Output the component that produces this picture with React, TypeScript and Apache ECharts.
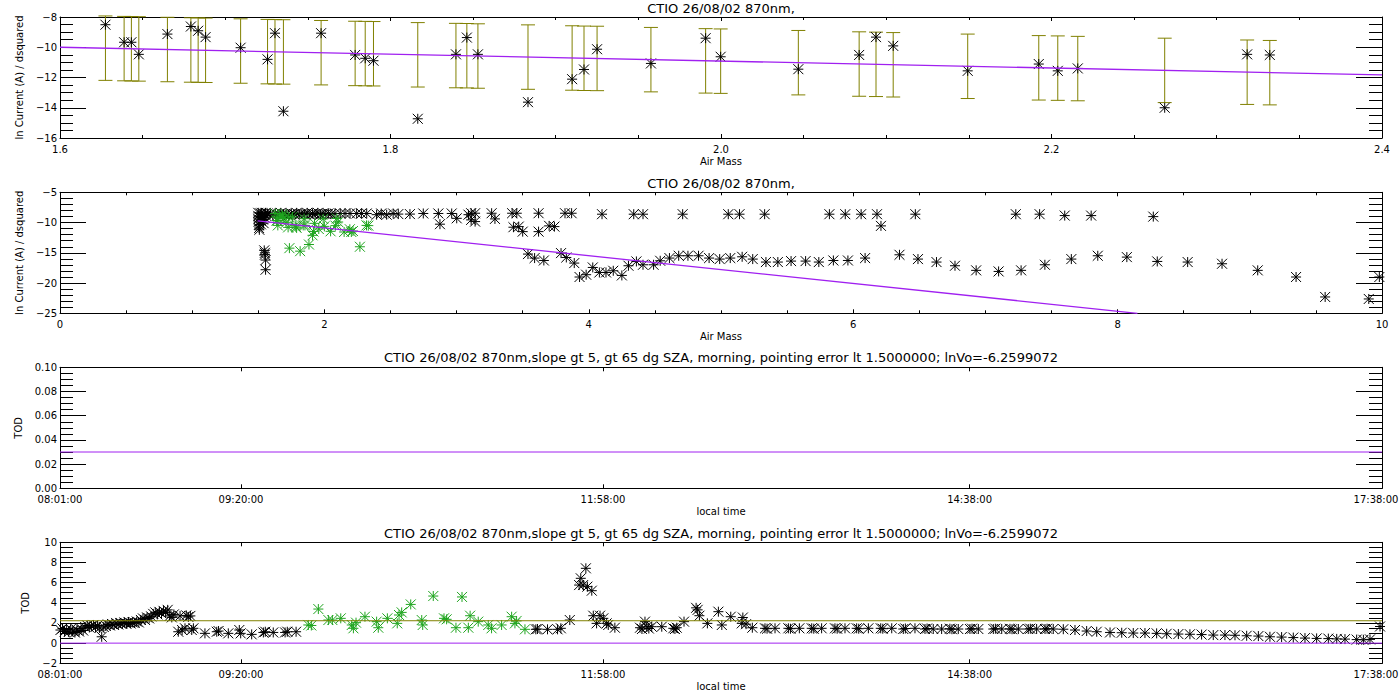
import React, { useEffect, useRef } from "react";
import * as echarts from "echarts";

const FONT = "DejaVu Sans";
const PURPLE = "#A020F0";
const OLIVE = "#808000";
const GREEN = "#1FA51F";
const BLACK = "#000000";

const titleShort = "CTIO 26/08/02 870nm,";
const titleLong =
  "CTIO 26/08/02 870nm,slope gt 5, gt 65 dg SZA, morning, pointing error lt 1.5000000; lnVo=-6.2599072";
const airMassName = "Air Mass";
const lnCurrentName = "ln Current (A) / dsquared";
const timeName = "local time";
const todName = "TOD";

// ---- selected observations (panel 1, green in panel 2): [air mass, ln current]
const selectedPoints: [number, number][] = [
  [1.6275, -8.51], [1.6388, -9.67], [1.6432, -9.67], [1.6477, -10.47], [1.665, -9.13],
  [1.6792, -8.63], [1.6836, -8.91], [1.6881, -9.33], [1.7093, -10.03], [1.7256, -10.8],
  [1.7301, -9.07], [1.7352, -14.23], [1.758, -9.07], [1.7786, -10.51], [1.7847, -10.73],
  [1.7897, -10.89], [1.8165, -14.73], [1.8396, -10.47], [1.8462, -9.36], [1.8529, -10.47],
  [1.8832, -13.63], [1.9099, -12.11], [1.9171, -11.47], [1.925, -10.13], [1.9576, -11.07],
  [1.9907, -9.4], [1.9998, -10.63], [2.0468, -11.45], [2.0836, -10.51], [2.0938, -9.33],
  [2.1042, -9.91], [2.1493, -11.56], [2.1923, -11.11], [2.2038, -11.56], [2.2159, -11.4],
  [2.2685, -14.0], [2.3184, -10.47], [2.3321, -10.51],
];
const errLow = [
  -12.19, -12.22, -12.23, -12.24, -12.28, -12.31, -12.32, -12.33, -12.38, -12.42,
  -12.43, -12.44, -12.49, -12.54, -12.55, -12.56, -12.63, -12.68, -12.69, -12.71,
  -12.78, -12.84, -12.86, -12.87, -12.95, -13.03, -13.05, -13.15, -13.24, -13.26,
  -13.29, -13.39, -13.49, -13.51, -13.54, -13.66, -13.78, -13.81,
];
const errHigh = [
  -7.93, -7.96, -7.97, -7.98, -8.02, -8.05, -8.06, -8.07, -8.12, -8.16,
  -8.17, -8.18, -8.23, -8.28, -8.29, -8.3, -8.37, -8.42, -8.43, -8.45,
  -8.52, -8.58, -8.6, -8.61, -8.69, -8.77, -8.79, -8.89, -8.98, -9.0,
  -9.03, -9.13, -9.23, -9.25, -9.28, -9.4, -9.52, -9.55,
];
const fit1: [number, number][] = [[1.6, -10.0], [2.4, -11.83]];

// ---- all observations (panel 2, black): [air mass, ln current]
const allPoints: [number, number][] = [
  [1.5, -8.4], [1.5, -8.9], [1.5, -9.4], [1.502, -9.9], [1.504, -10.4], [1.506, -10.9], [1.508, -11.2],
  [1.515, -8.5], [1.515, -9.1], [1.518, -9.7], [1.52, -10.3], [1.525, -8.4], [1.53, -8.9], [1.535, -9.5],
  [1.54, -10.1], [1.545, -8.6], [1.55, -9.2], [1.555, -8.4], [1.56, -8.9], [1.57, -8.5],
  [1.545, -14.6], [1.55, -15.0], [1.55, -15.3], [1.555, -16.2], [1.555, -17.8],
  [1.59, -8.5], [1.61, -8.8], [1.63, -8.5], [1.65, -8.7], [1.67, -8.4], [1.69, -8.6], [1.71, -8.5],
  [1.73, -8.8], [1.75, -8.5], [1.77, -8.6], [1.79, -8.4], [1.81, -8.7], [1.83, -8.5], [1.85, -8.6],
  [1.87, -8.4], [1.89, -8.7], [1.91, -8.5], [1.93, -8.6], [1.95, -8.4], [1.97, -8.7], [1.99, -8.5],
  [2.01, -8.6], [2.03, -8.5], [2.05, -8.6],
  [2.08, -8.5], [2.12, -8.5], [2.156, -8.5], [2.194, -8.5], [2.244, -8.5], [2.28, -8.5], [2.32, -8.5],
  [2.395, -8.7], [2.43, -8.5], [2.471, -8.7], [2.52, -8.5], [2.559, -8.6], [2.647, -8.6], [2.748, -8.5],
  [2.862, -8.5], [2.874, -10.27], [2.963, -8.5], [3.001, -9.3], [3.09, -8.7],
  [3.11, -8.46], [3.14, -8.46], [3.11, -9.56], [3.14, -9.84], [3.265, -8.46], [3.29, -9.4],
  [3.42, -8.46], [3.455, -8.46], [3.43, -10.77], [3.47, -10.67], [3.5, -11.5], [3.62, -8.46],
  [3.62, -11.5], [3.7, -10.55], [3.74, -10.67], [3.82, -8.46], [3.87, -8.46], [4.1, -8.62],
  [4.34, -8.62], [4.41, -8.62], [4.71, -8.62], [5.055, -8.62], [5.14, -8.62], [5.33, -8.62],
  [5.82, -8.62], [5.94, -8.62], [6.06, -8.62], [6.18, -8.62], [6.21, -10.55], [6.47, -8.62],
  [7.23, -8.62], [7.41, -8.62], [7.6, -8.85], [7.8, -8.85], [8.27, -9.02],
  [3.54, -15.21], [3.59, -15.87], [3.66, -16.27], [3.79, -15.05], [3.83, -15.77], [3.89, -16.7],
  [3.93, -19.0], [3.98, -18.62], [4.03, -17.42], [4.08, -18.25], [4.13, -18.25], [4.185, -17.97],
  [4.25, -18.74], [4.3, -17.14], [4.36, -16.43], [4.41, -16.98], [4.49, -16.98], [4.54, -16.32],
  [4.61, -15.87], [4.68, -15.49], [4.75, -15.49], [4.83, -15.49], [4.91, -15.87], [4.99, -16.04],
  [5.07, -15.87], [5.16, -15.66], [5.24, -16.04], [5.34, -16.53], [5.43, -16.53], [5.53, -16.37],
  [5.64, -16.37], [5.74, -16.53], [5.85, -16.27], [5.96, -16.27], [6.09, -15.87], [6.35, -15.33],
  [6.49, -16.04], [6.63, -16.53], [6.77, -17.14], [6.93, -17.9], [7.1, -18.08], [7.27, -17.9],
  [7.45, -16.98], [7.65, -16.04], [7.85, -15.49], [8.07, -15.71], [8.3, -16.43], [8.53, -16.53],
  [8.79, -16.81], [9.06, -17.9], [9.35, -19.0], [9.57, -22.3], [9.9, -22.63], [9.98, -19.0],
];
const fit2: [number, number][] = [[1.495, -9.73], [8.15, -25.0]];

// ---- time panels: local time in decimal hours
const timeTickLabels = ["08:01:00", "09:20:00", "11:58:00", "14:38:00", "17:38:00"];
const todFitLevel = 0.03;
const todMeanLevel = 2.22;
const todZeroLevel = 0;

// all TOD values (panel 4, black): [hour, TOD]
const todAll: [number, number][] = [
  [8.02, 1.3], [8.035, 1.45], [8.05, 1.15], [8.065, 1.35], [8.08, 1.1], [8.095, 1.4], [8.11, 1.2],
  [8.125, 1.05], [8.14, 1.3], [8.155, 1.15], [8.17, 1.45], [8.185, 1.25], [8.2, 1.6], [8.215, 1.75],
  [8.23, 1.55], [8.245, 1.7], [8.26, 1.8], [8.275, 1.6], [8.29, 1.75], [8.305, 1.5], [8.32, 0.63],
  [8.335, 1.6], [8.35, 1.7], [8.365, 1.85], [8.38, 1.75], [8.395, 1.9], [8.41, 1.8], [8.425, 2.0],
  [8.44, 1.85], [8.455, 2.0], [8.47, 1.9], [8.485, 2.05], [8.5, 1.95], [8.515, 2.1], [8.53, 1.95],
  [8.545, 2.05], [8.56, 2.0], [8.575, 2.15], [8.59, 2.05], [8.605, 2.3], [8.62, 2.45], [8.635, 2.3],
  [8.65, 2.55], [8.665, 2.45], [8.68, 2.65], [8.695, 2.9], [8.71, 3.05], [8.725, 2.85], [8.74, 3.1],
  [8.755, 2.95], [8.77, 3.2], [8.785, 3.05], [8.8, 3.3], [8.815, 2.7], [8.83, 2.55], [8.845, 2.85],
  [8.877, 1.13], [8.89, 2.7], [8.905, 1.3], [8.926, 1.47], [8.935, 2.75], [8.95, 2.6], [8.965, 2.7],
  [8.975, 1.3], [8.987, 1.47], [9.071, 0.97], [9.157, 1.13], [9.17, 1.2], [9.241, 0.97], [9.321, 1.3],
  [9.331, 0.97], [9.411, 0.87], [9.496, 1.06], [9.51, 1.13], [9.568, 1.06], [9.654, 1.06], [9.67, 1.13],
  [9.734, 1.13],
  [11.478, 1.37], [11.49, 1.4], [11.563, 1.37], [11.636, 1.37], [11.66, 1.47], [11.725, 2.29],
  [11.793, 5.76], [11.805, 6.43], [11.822, 5.76], [11.842, 7.42], [11.853, 5.6], [11.885, 5.2],
  [11.896, 2.72], [11.92, 1.96], [11.945, 2.72], [11.969, 2.46], [11.993, 1.96], [12.005, 1.8],
  [12.053, 1.53], [12.236, 1.53], [12.25, 1.4], [12.272, 2.13], [12.285, 1.63], [12.3, 1.45],
  [12.321, 1.63], [12.394, 1.63], [12.478, 1.47], [12.49, 1.4], [12.503, 1.53], [12.556, 2.13],
  [12.644, 3.5], [12.655, 3.3], [12.668, 2.72], [12.726, 1.96], [12.806, 3.12], [12.831, 1.8],
  [12.896, 2.62], [12.976, 1.96], [12.984, 2.54], [13.007, 1.88], [13.053, 1.53],
  [13.145, 1.47], [13.16, 1.43], [13.218, 1.47], [13.315, 1.47], [13.33, 1.43], [13.395, 1.47],
  [13.485, 1.47], [13.5, 1.43], [13.557, 1.47], [13.654, 1.47], [13.67, 1.43], [13.727, 1.47],
  [13.812, 1.47], [13.827, 1.43], [13.897, 1.47], [13.987, 1.47], [14.002, 1.43], [14.067, 1.47],
  [14.151, 1.4], [14.166, 1.45], [14.236, 1.47], [14.309, 1.4], [14.324, 1.45], [14.369, 1.4],
  [14.43, 1.4], [14.49, 1.43], [14.505, 1.38], [14.551, 1.4], [14.636, 1.4], [14.651, 1.43],
  [14.697, 1.4], [14.806, 1.4], [14.821, 1.43], [14.867, 1.4], [14.927, 1.42], [14.942, 1.38],
  [14.988, 1.4], [15.06, 1.4], [15.075, 1.43], [15.121, 1.4], [15.182, 1.4], [15.197, 1.43],
  [15.242, 1.4], [15.315, 1.38], [15.4, 1.3], [15.485, 1.2], [15.558, 1.13], [15.655, 1.06],
  [15.74, 1.03], [15.824, 1.0], [15.909, 1.0], [15.994, 0.97], [16.067, 0.93], [16.152, 0.9],
  [16.236, 0.88], [16.321, 0.85], [16.406, 0.8], [16.491, 0.8], [16.564, 0.78], [16.649, 0.73],
  [16.734, 0.7], [16.818, 0.63], [16.903, 0.6], [16.988, 0.55], [17.073, 0.5], [17.158, 0.47],
  [17.243, 0.45], [17.304, 0.42], [17.364, 0.4], [17.449, 0.35], [17.498, 0.33], [17.546, 0.37],
  [17.619, 1.65],
];

// selected TOD values (panel 4, green): [hour, TOD]
const todSelected: [number, number][] = [
  [9.823, 1.8], [9.845, 1.75], [9.896, 3.38], [9.969, 2.29], [9.998, 2.29], [10.059, 2.46],
  [10.139, 1.8], [10.151, 1.47], [10.17, 2.03], [10.235, 2.62], [10.32, 2.13], [10.332, 1.53],
  [10.398, 2.46], [10.47, 1.96], [10.483, 2.79], [10.502, 3.05], [10.568, 3.84], [10.648, 2.29],
  [10.655, 1.8], [10.732, 4.67], [10.81, 2.46], [10.829, 2.36], [10.897, 1.53], [10.941, 4.58],
  [10.987, 1.53], [11.0, 2.72], [11.059, 2.13], [11.132, 1.8], [11.156, 1.47], [11.229, 1.8],
  [11.302, 2.62], [11.326, 1.96], [11.338, 2.2], [11.399, 1.37],
];

// ---------------------------------------------------------------------------
const toHours = (s: string) => {
  const [h, m, sec] = s.split(":").map(Number);
  return h + m / 60 + sec / 3600;
};
const timeTicks = timeTickLabels.map(toHours);
const tMin = timeTicks[0];
const tMax = timeTicks[timeTicks.length - 1];
const minus = (s: string) => s.replace("-", "\u2212");

const STAR = "path://M-5,-5L5,5M-5,5L5,-5M0,-5L0,5M-5,0L5,0";

const GRID_TOPS = [17, 192.3, 367.3, 542.3];

type AxCfg = {
  min: number;
  max: number;
  interval?: number;
  minor?: number;
  ticks?: number[];
  fmt: (v: number) => string;
  name: string;
  rich?: any;
};

const textStyle = { color: BLACK, fontFamily: FONT, fontSize: 10 };

function xPair(grid: number, c: AxCfg) {
  const common: any = {
    type: "value",
    gridIndex: grid,
    min: c.min,
    max: c.max,
    interval: c.interval,
    splitLine: { show: false },
    minorSplitLine: { show: false },
    axisLine: { show: true, onZero: false, lineStyle: { color: BLACK, width: 1 } },
    axisTick: { show: true, inside: true, length: 4, lineStyle: { color: BLACK, width: 1 }, customValues: c.ticks },
    minorTick: { show: !!c.minor, splitNumber: c.minor || 5, length: 3, lineStyle: { color: BLACK, width: 1 } },
  };
  return [
    {
      ...common,
      position: "bottom",
      axisLabel: {
        show: true, ...textStyle, margin: 6, formatter: c.fmt, customValues: c.ticks,
        showMinLabel: true, showMaxLabel: true, hideOverlap: false, rich: c.rich,
      },
      name: c.name,
      nameLocation: "middle",
      nameGap: 18,
      nameTextStyle: textStyle,
    },
    { ...common, position: "top", axisLabel: { show: false } },
  ];
}

function yPair(grid: number, c: AxCfg) {
  const common: any = {
    type: "value",
    gridIndex: grid,
    min: c.min,
    max: c.max,
    interval: c.interval,
    splitLine: { show: false },
    minorSplitLine: { show: false },
    axisLine: { show: true, onZero: false, lineStyle: { color: BLACK, width: 1 } },
    axisTick: { show: true, inside: true, length: 26, lineStyle: { color: BLACK, width: 1 } },
    minorTick: { show: true, splitNumber: c.minor || 4, length: 13, lineStyle: { color: BLACK, width: 1 } },
  };
  return [
    {
      ...common,
      position: "left",
      axisLabel: { show: true, ...textStyle, margin: 3, formatter: c.fmt, showMinLabel: true, showMaxLabel: true },
      name: c.name,
      nameLocation: "middle",
      nameGap: 30,
      nameRotate: 90,
      nameTextStyle: textStyle,
    },
    { ...common, position: "right", axisLabel: { show: false } },
  ];
}

// the last time label sits at the right border; pad it so it stays inside the page
const timeFmt = (v: number) => {
  const i = timeTicks.findIndex((t) => Math.abs(t - v) < 1e-6);
  if (i < 0) return "";
  return i === timeTicks.length - 1 ? `{last|${timeTickLabels[i]}}` : timeTickLabels[i];
};
const timeRich = { last: { ...textStyle, padding: [0, 12, 0, 0] } };
const intFmt = (v: number) => minus(String(Math.round(v)));

function starSeries(data: [number, number][], axis: number, color: string) {
  return {
    type: "scatter",
    xAxisIndex: axis,
    yAxisIndex: axis,
    data,
    symbol: STAR,
    symbolSize: 10,
    itemStyle: { color: "transparent", borderColor: color, borderWidth: 1, opacity: 1 },
    emphasis: { disabled: true },
    silent: true,
  };
}

function lineSeries(data: [number, number][], axis: number, color: string, width = 1) {
  return {
    type: "line",
    xAxisIndex: axis,
    yAxisIndex: axis,
    data,
    showSymbol: false,
    symbol: "none",
    lineStyle: { color, width },
    emphasis: { disabled: true },
    silent: true,
    clip: true,
  };
}

function titleText(text: string, y: number) {
  return {
    type: "text",
    x: 721,
    y,
    silent: true,
    style: {
      text,
      fill: BLACK,
      font: `13px "${FONT}"`,
      textAlign: "center",
      textVerticalAlign: "middle",
      align: "center",
      verticalAlign: "middle",
    },
  };
}

function buildOption() {
  const grid = GRID_TOPS.map((top) => ({
    left: 60,
    width: 1322,
    top,
    height: 121,
    containLabel: false,
    outerBoundsMode: "none",
  }));

  const xAxis = [
    ...xPair(0, { min: 1.6, max: 2.4, interval: 0.2, minor: 4, fmt: (v) => v.toFixed(1), name: airMassName }),
    ...xPair(1, { min: 0, max: 10, interval: 2, minor: 4, fmt: (v) => String(Math.round(v)), name: airMassName }),
    ...xPair(2, { min: tMin, max: tMax, ticks: timeTicks, fmt: timeFmt, name: timeName, rich: timeRich }),
    ...xPair(3, { min: tMin, max: tMax, ticks: timeTicks, fmt: timeFmt, name: timeName, rich: timeRich }),
  ];
  const yAxis = [
    ...yPair(0, { min: -16, max: -8, interval: 2, minor: 4, fmt: intFmt, name: lnCurrentName }),
    ...yPair(1, { min: -25, max: -5, interval: 5, minor: 5, fmt: intFmt, name: lnCurrentName }),
    ...yPair(2, { min: 0, max: 0.1, interval: 0.02, minor: 4, fmt: (v) => v.toFixed(2), name: todName }),
    ...yPair(3, { min: -2, max: 10, interval: 2, minor: 4, fmt: intFmt, name: todName }),
  ];

  const errData = selectedPoints.map((p, i) => [p[0], errLow[i], errHigh[i]]);

  const series: any[] = [
    lineSeries(fit1, 0, PURPLE, 1.3),
    {
      type: "custom",
      xAxisIndex: 0,
      yAxisIndex: 0,
      data: errData,
      encode: { x: 0, y: [1, 2] },
      silent: true,
      renderItem: (_params: any, api: any) => {
        const x = api.value(0);
        const lo = api.coord([x, api.value(1)]);
        const hi = api.coord([x, api.value(2)]);
        const w = 7;
        const st = { stroke: OLIVE, lineWidth: 1 };
        return {
          type: "group",
          children: [
            { type: "line", shape: { x1: lo[0], y1: lo[1], x2: hi[0], y2: hi[1] }, style: st },
            { type: "line", shape: { x1: lo[0] - w, y1: lo[1], x2: lo[0] + w, y2: lo[1] }, style: st },
            { type: "line", shape: { x1: hi[0] - w, y1: hi[1], x2: hi[0] + w, y2: hi[1] }, style: st },
          ],
        };
      },
    },
    starSeries(selectedPoints, 0, BLACK),

    starSeries(allPoints, 2, BLACK),
    starSeries(selectedPoints, 2, GREEN),
    lineSeries(fit2, 2, PURPLE, 1.3),

    lineSeries([[tMin, todFitLevel], [tMax, todFitLevel]], 4, PURPLE, 1),

    starSeries(todAll, 6, BLACK),
    starSeries(todSelected, 6, GREEN),
    lineSeries([[tMin, todMeanLevel], [tMax, todMeanLevel]], 6, OLIVE, 1),
    lineSeries([[tMin, todZeroLevel], [tMax, todZeroLevel]], 6, PURPLE, 1),
  ];

  return {
    animation: false,
    backgroundColor: "#ffffff",
    textStyle: { fontFamily: FONT },
    grid,
    xAxis,
    yAxis,
    series,
    graphic: [
      titleText(titleShort, 8.5),
      titleText(titleShort, 183.5),
      titleText(titleLong, 357),
      titleText(titleLong, 533.5),
    ],
  };
}

export default function App() {
  const ref = useRef<HTMLDivElement>(null);
  useEffect(() => {
    if (!ref.current) return;
    const chart = echarts.init(ref.current, undefined, { renderer: "svg" });
    chart.setOption(buildOption() as any);
    return () => chart.dispose();
  }, []);
  return (
    <div
      ref={ref}
      style={{ position: "fixed", left: 0, top: 0, width: 1400, height: 700, background: "#fff" }}
    />
  );
}
